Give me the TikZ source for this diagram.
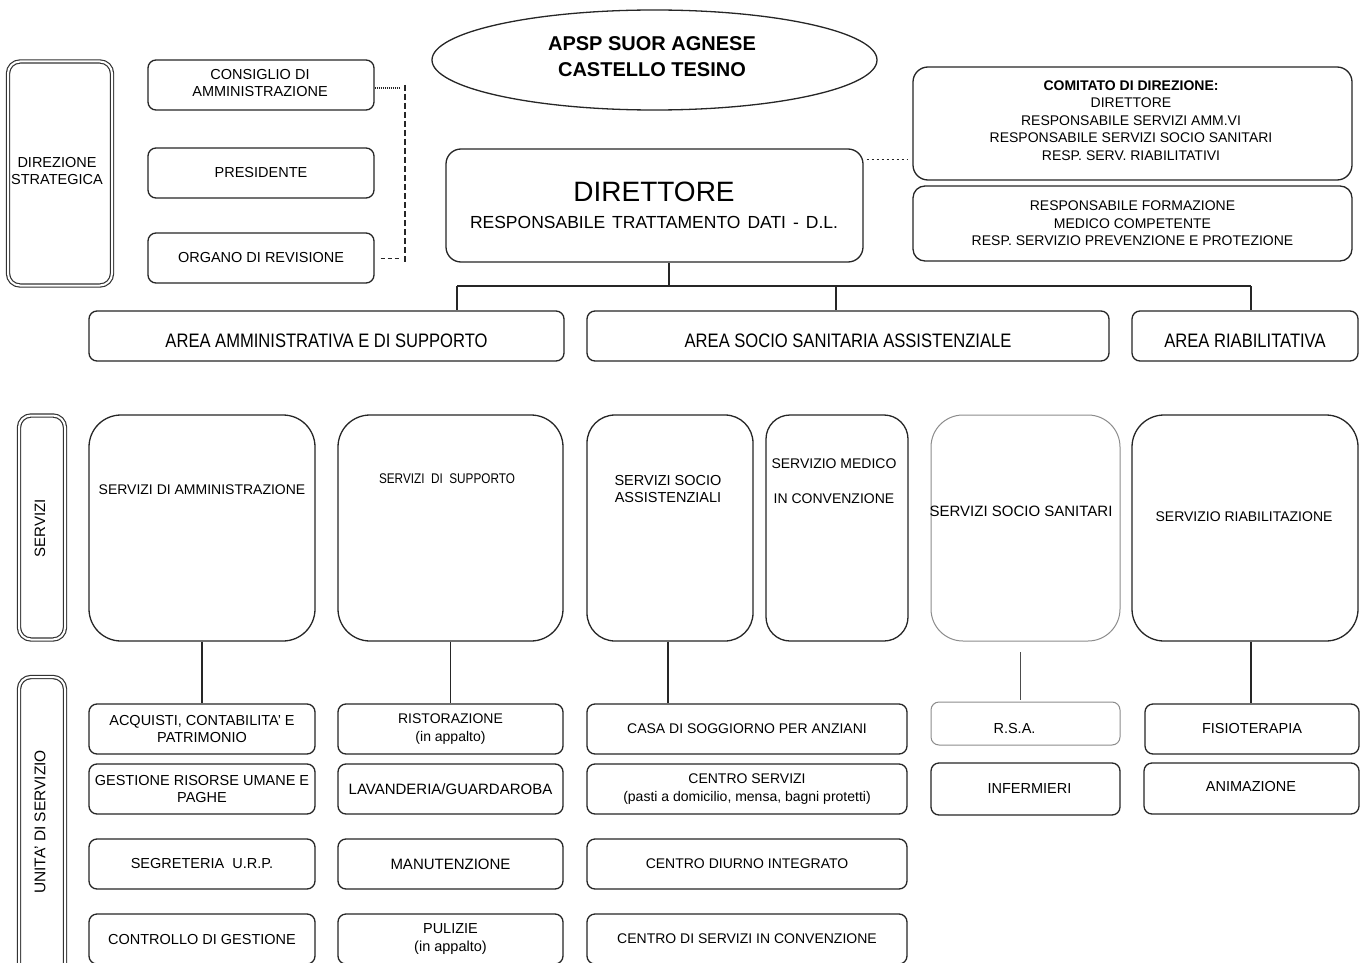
\documentclass[tikz,border=0pt]{standalone}
\usepackage{fontspec}
\setmainfont{Liberation Sans}
\usetikzlibrary{shapes.geometric}
\newcommand\fsz[2]{\fontsize{#1}{#2}\selectfont}
\tikzset{
  box/.style={draw=black!85, line width=1.3pt, rounded corners=8pt, align=center, inner sep=0pt, font=\fsz{14.5}{17.5}},
  bigbox/.style={box, rounded corners=32pt},
  lightbox/.style={box, draw=black!45, line width=1pt},
  sidebox/.style={draw=black!80, double, double distance=2pt, line width=1.2pt, rounded corners=12pt, inner sep=0pt},
  lbl/.style={align=center, inner sep=0pt, font=\fsz{14.5}{17.5}},
  areabox/.style={box, minimum height=50pt, font=\fsz{19.5}{22}},
  conn/.style={draw=black!85, line width=1.2pt},
}
\newcommand\narrow[1]{\scalebox{0.85}[1]{#1}}
\begin{document}
\begin{tikzpicture}[x=1pt,y=-1pt]
\clip (0,0) rectangle (1360,963);
\fill[white] (0,0) rectangle (1360,963);

% strategic direction
\node[sidebox, minimum width=104pt, minimum height=224pt] (ds) at (60,173.5) {};
\node[lbl] (dst) at (57,171) {DIREZIONE\\STRATEGICA};
\node[box, minimum width=226pt, minimum height=50pt] (cda) at (261,85) {};
\node[lbl] (cdat) at (260,83) {CONSIGLIO DI\\AMMINISTRAZIONE};
\node[box, minimum width=226pt, minimum height=50pt] (pres) at (261,173) {PRESIDENTE};
\node[box, minimum width=226pt, minimum height=50pt] (rev) at (261,258) {ORGANO DI REVISIONE};
\coordinate (dtop) at (405,85);
\coordinate (dbot) at (405,262);
\draw[black!85, line width=1.2pt, dash pattern=on 6pt off 3pt] (dtop) -- (dbot);
\draw[black!85, line width=2pt, dash pattern=on 1pt off 1pt] (cda.east |- 0,88) -- (400,88);
\draw[black!85, line width=1pt, dash pattern=on 4pt off 3pt] ([xshift=6pt]rev.east) -- (400,258);

% title
\node[draw=black!85, line width=1.3pt, ellipse, minimum width=445pt, minimum height=100pt, inner sep=0pt] (apsp) at (654.5,60) {};
\node[lbl, font=\bfseries\fsz{20}{26}] (apspt) at (652,57) {APSP SUOR AGNESE\\CASTELLO TESINO};

% director
\node[box, rounded corners=15pt, minimum width=417pt, minimum height=113pt] (dir) at (654.5,205.5) {};
\node[lbl, font=\fsz{28}{30}] (dirt) at (654,192) {DIRETTORE};
\node[lbl, font={\fsz{17.5}{20}\spaceskip=7pt plus 1pt}] (dirs) at (654,222) {RESPONSABILE TRATTAMENTO DATI - D.L.};

\node[box, rounded corners=15pt, minimum width=439pt, minimum height=113pt] (com) at (1132.5,123.5) {};
\node[lbl, font=\fsz{14}{17.5}] (comt) at (1131,120.5) {\textbf{COMITATO DI DIREZIONE:}\\DIRETTORE\\RESPONSABILE SERVIZI AMM.VI\\RESPONSABILE SERVIZI SOCIO SANITARI\\RESP. SERV. RIABILITATIVI};
\node[box, rounded corners=12pt, minimum width=439pt, minimum height=75pt, font=\fsz{14}{17.5}] (form) at (1132.5,223.5) {RESPONSABILE FORMAZIONE\\MEDICO COMPETENTE\\RESP. SERVIZIO PREVENZIONE E PROTEZIONE};
\draw[black!85, line width=1pt, dash pattern=on 2pt off 3pt] ([xshift=3pt]dir.east |- 0,160) -- ([xshift=-4pt]com.west |- 0,160);

% areas
\node[areabox, minimum width=475pt, label={[font=\fsz{19.5}{22}, yshift=-5pt]center:\narrow{AREA AMMINISTRATIVA E DI SUPPORTO}}] (aa) at (326.5,336) {};
\node[areabox, minimum width=522pt, label={[font=\fsz{19.5}{22}, yshift=-5pt]center:\narrow{AREA SOCIO SANITARIA ASSISTENZIALE}}] (as) at (848,336) {};
\node[areabox, minimum width=226pt, label={[font=\fsz{19.5}{22}, yshift=-5pt]center:\narrow{AREA RIABILITATIVA}}] (ar) at (1245,336) {};
\coordinate (jd) at (669,286);
\coordinate (ja) at (457,286);
\coordinate (jb) at (836,286);
\coordinate (jc) at (1251,286);
\draw[conn] (dir.south -| jd) -- (jd);
\draw[conn] (ja) -- (jc);
\draw[conn] (ja) -- (ja |- aa.north);
\draw[conn] (jb) -- (jb |- as.north);
\draw[conn] (jc) -- (jc |- ar.north);

% side labels
\node[sidebox, minimum width=46pt, minimum height=224pt] (srv) at (42,527.5) {};
\node[lbl, rotate=90, font=\fsz{15}{18}] (srvt) at (40,528) {SERVIZI};
\node[sidebox, minimum width=46pt, minimum height=340pt] (uds) at (42,847) {};
\node[lbl, rotate=90, font=\fsz{15.5}{18}] (udst) at (40,822) {UNITA' DI SERVIZIO};

% services
\node[bigbox, minimum width=226pt, minimum height=226pt] (sa) at (202,528) {};
\node[lbl, font=\fsz{14}{17}] (sat) at (202,490) {SERVIZI DI AMMINISTRAZIONE};
\node[bigbox, minimum width=225pt, minimum height=226pt] (ss) at (450.5,528) {};
\node[lbl, font=\fsz{14}{17}] (sst) at (447,479) {\scalebox{0.84}[1]{SERVIZI \ DI \ SUPPORTO}};
\node[bigbox, rounded corners=28pt, minimum width=166pt, minimum height=226pt] (sas) at (670,528) {};
\node[lbl] (sast) at (668,489) {SERVIZI SOCIO\\ASSISTENZIALI};
\node[bigbox, rounded corners=24pt, minimum width=142pt, minimum height=226pt] (sm) at (837,528) {};
\node[lbl, font=\fsz{14}{35}] (smt) at (834,481.5) {SERVIZIO MEDICO\\IN CONVENZIONE};
\node[lightbox, rounded corners=32pt, minimum width=189pt, minimum height=226pt] (sss) at (1025.5,528) {};
\node[lbl, font=\fsz{15}{18}] (ssst) at (1021,511) {SERVIZI SOCIO SANITARI};
\node[bigbox, minimum width=226pt, minimum height=226pt] (sr) at (1245,528) {};
\node[lbl, font=\fsz{14}{17}] (srt) at (1244,517) {SERVIZIO RIABILITAZIONE};

% units col 1
\node[box, minimum width=226pt, minimum height=50pt] (u11) at (202,729) {ACQUISTI, CONTABILITA' E\\PATRIMONIO};
\node[box, minimum width=226pt, minimum height=50pt] (u12) at (202,789) {GESTIONE RISORSE UMANE E\\PAGHE};
\node[box, minimum width=226pt, minimum height=50pt] (u13) at (202,864) {SEGRETERIA \ U.R.P.};
\node[box, minimum width=226pt, minimum height=50pt] (u14) at (202,939) {CONTROLLO DI GESTIONE};
% units col 2
\node[box, minimum width=225pt, minimum height=50pt, font=\fsz{14}{17.5}] (u21) at (450.5,729) {RISTORAZIONE\\(in appalto)};
\node[box, minimum width=225pt, minimum height=50pt, font=\fsz{15}{17.5}] (u22) at (450.5,789) {LAVANDERIA/GUARDAROBA};
\node[box, minimum width=225pt, minimum height=50pt, font=\fsz{15}{17.5}] (u23) at (450.5,864) {MANUTENZIONE};
\node[box, minimum width=225pt, minimum height=50pt] (u24) at (450.5,939) {PULIZIE\\(in appalto)};
% units col 3
\node[box, minimum width=320pt, minimum height=50pt, font=\fsz{14}{17.5}] (u31) at (747,729) {CASA DI SOGGIORNO PER ANZIANI};
\node[box, minimum width=320pt, minimum height=50pt, font=\fsz{14}{17.5}] (u32) at (747,789) {CENTRO SERVIZI\\(pasti a domicilio, mensa, bagni protetti)};
\node[box, minimum width=320pt, minimum height=50pt, font=\fsz{14}{17.5}] (u33) at (747,864) {CENTRO DIURNO INTEGRATO};
\node[box, minimum width=320pt, minimum height=50pt, font=\fsz{14}{17.5}] (u34) at (747,939) {CENTRO DI SERVIZI IN CONVENZIONE};
% units col 4
\node[lightbox, minimum width=189pt, minimum height=43pt, label={[font=\fsz{14.5}{17.5}, yshift=-5pt, xshift=-11pt]center:R.S.A.}] (u41) at (1025.5,723.5) {};
\node[box, minimum width=189pt, minimum height=52pt, label={[font=\fsz{14.5}{17.5}, xshift=4pt]center:INFERMIERI}] (u42) at (1025.5,789) {};
% units col 5
\node[box, minimum width=214pt, minimum height=50pt] (u51) at (1252,729) {FISIOTERAPIA};
\node[box, minimum width=215pt, minimum height=51pt] (u52) at (1251.5,788.5) {};
\node[lbl] (u52t) at (1251,787) {ANIMAZIONE};

% connectors services -> units
\draw[conn] (sa.south) -- (u11.north);
\draw[conn] (ss.south) -- (u21.north);
\draw[conn] (sas.south -| 668,0) -- (u31.north -| 668,0);
\coordinate (g1) at (1020,652);
\coordinate (g2) at (1020,700);
\draw[black!70, line width=1pt] (g1) -- (g2);
\draw[conn] (sr.south -| 1251,0) -- (u51.north -| 1251,0);
\end{tikzpicture}
\end{document}
